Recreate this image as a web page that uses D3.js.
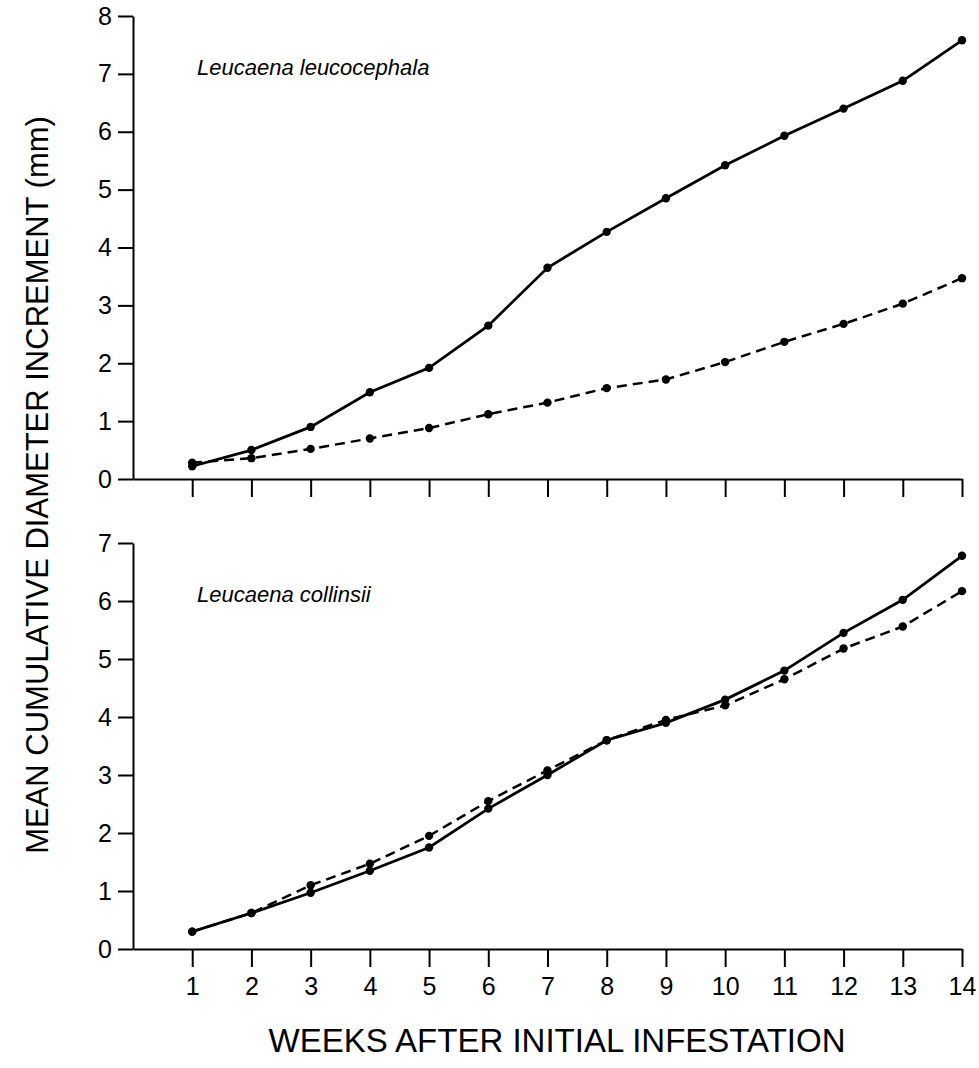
<!DOCTYPE html>
<html>
<head>
<meta charset="utf-8">
<script src="https://cdn.jsdelivr.net/npm/d3@7"></script>
<style>
  body { margin: 0; background: #fff; }
  svg { display: block; font-family: "Liberation Sans", Arial, Helvetica, sans-serif; }
  .axis path, .axis line { stroke: #000; stroke-width: 2; }
  .axis text { font-size: 25px; fill: #000; font-family: "Liberation Sans", Arial, Helvetica, sans-serif; }
</style>
</head>
<body>
<svg width="979" height="1068"></svg>
<script>
// weeks after infestation
var weeks = [1, 2, 3, 4, 5, 6, 7, 8, 9, 10, 11, 12, 13, 14]

// Leucaena leucocephala
var leucoSolid = [0.22, 0.5, 0.9, 1.5, 1.92, 2.65, 3.65, 4.27, 4.85, 5.42, 5.93, 6.4, 6.88, 7.58]
var leucoDashed = [0.28, 0.36, 0.52, 0.7, 0.88, 1.12, 1.32, 1.57, 1.72, 2.02, 2.37, 2.68, 3.03, 3.47]

// Leucaena collinsii
var collSolid = [0.3, 0.62, 0.97, 1.35, 1.75, 2.42, 3.0, 3.6, 3.9, 4.3, 4.8, 5.45, 6.02, 6.78]
var collDashed = [0.3, 0.62, 1.1, 1.47, 1.95, 2.55, 3.08, 3.6, 3.95, 4.2, 4.65, 5.18, 5.56, 6.17]

var topTicks = [0, 1, 2, 3, 4, 5, 6, 7, 8]
var bottomTicks = [0, 1, 2, 3, 4, 5, 6, 7]

var svg = d3.select('svg')

var x = d3.scaleLinear().domain([0, 14]).range([133, 962])

function drawPanel(yMax, yTop, yBottom, ticks, solid, dashed, title, showLabels) {
    var y = d3.scaleLinear().domain([0, yMax]).range([yBottom, yTop])

    svg.append('g')
        .attr('class', 'axis')
        .attr('transform', `translate(${x(0)},0)`)
        .call(d3.axisLeft(y).tickValues(ticks).tickFormat(d3.format('d')).tickSize(15).tickSizeOuter(0).tickPadding(6))

    var xAxis = d3.axisBottom(x).tickValues(weeks).tickSize(18).tickSizeOuter(0).tickPadding(10)
    if (!showLabels) xAxis.tickFormat('')
    svg.append('g')
        .attr('class', 'axis')
        .attr('transform', `translate(0,${yBottom})`)
        .call(xAxis)

    var line = d3.line()
        .x((d, i) => x(weeks[i]))
        .y(d => y(d))

    svg.append('path')
        .datum(dashed)
        .attr('fill', 'none')
        .attr('stroke', '#000')
        .attr('stroke-width', 2.5)
        .attr('stroke-dasharray', '10,6')
        .attr('d', line)

    svg.append('path')
        .datum(solid)
        .attr('fill', 'none')
        .attr('stroke', '#000')
        .attr('stroke-width', 2.8)
        .attr('d', line)

    ;[solid, dashed].forEach(function (series) {
        svg.selectAll(null)
            .data(series)
            .enter()
            .append('circle')
            .attr('cx', (d, i) => x(weeks[i]))
            .attr('cy', d => y(d))
            .attr('r', 4.2)
            .attr('fill', '#000')
    })

    svg.append('text')
        .attr('x', 197)
        .attr('y', yTop + 59)
        .attr('font-size', 22)
        .attr('font-style', 'italic')
        .text(title)
}

drawPanel(8, 16, 479, topTicks, leucoSolid, leucoDashed, 'Leucaena leucocephala', false)
drawPanel(7, 543, 949, bottomTicks, collSolid, collDashed, 'Leucaena collinsii', true)

svg.append('text')
    .attr('transform', 'translate(48,485) rotate(-90)')
    .attr('text-anchor', 'middle')
    .attr('font-size', 31)
    .text('MEAN CUMULATIVE DIAMETER INCREMENT (mm)')

svg.append('text')
    .attr('x', 557)
    .attr('y', 1052)
    .attr('text-anchor', 'middle')
    .attr('font-size', 33)
    .text('WEEKS AFTER INITIAL INFESTATION')
</script>
</body>
</html>
